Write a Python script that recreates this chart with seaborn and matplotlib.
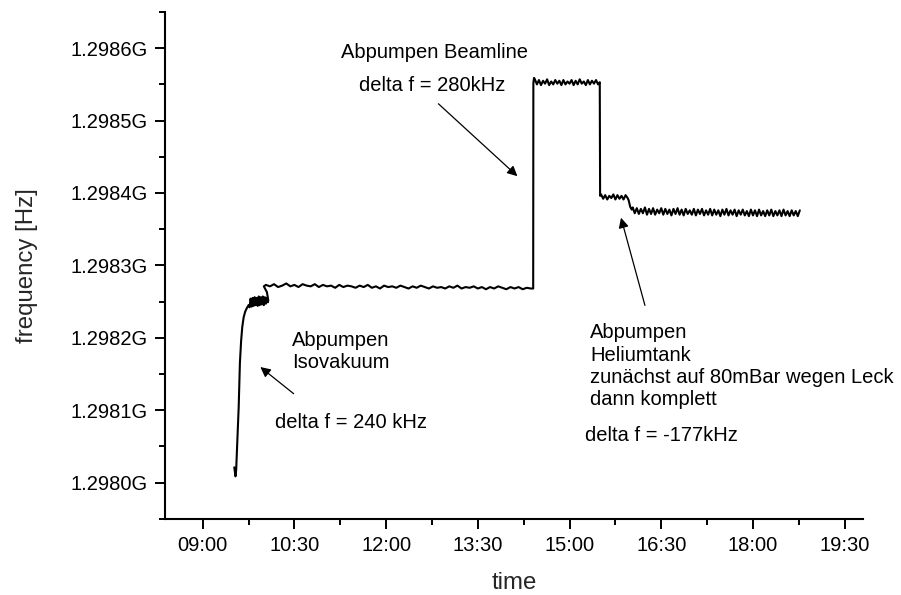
import numpy as np
import pandas as pd
import matplotlib
matplotlib.use("Agg")
import matplotlib.pyplot as plt
import matplotlib.dates as mdates
from matplotlib.ticker import FixedLocator
import seaborn as sns

DAY = "2000-01-01 "
BASE_HZ = 1.298e9          # frequency values below are kHz above 1.298 GHz

# ---- data -----------------------------------------------------------------
# rise after pumping the insulation vacuum (explicit sample times)
rise_time = ["09:31:00", "09:32:10", "09:32:50", "09:34:00", "09:35:20",
             "09:36:30", "09:37:40", "09:38:50", "09:40:10", "09:41:40",
             "09:43:20", "09:45:00"]
rise_khz = [21, 8.5, 17, 58, 105, 165, 195, 215, 228, 236, 241, 245]

# noisy shoulder (1-min samples)
blob_start, blob_step = "09:46:00", "1min"
blob_khz = [242, 254, 243, 255, 244, 256, 245, 255, 244, 257,
            245, 256, 246, 257, 245, 256, 247, 255, 249]

# curl up onto the first plateau
curl_time = ["10:04:20", "10:03:00", "10:00:00"]
curl_khz = [252, 263, 271]

# first plateau (4-min samples)
plat1_start, plat1_step = "10:02:00", "4min"
plat1_khz = [273, 271, 274, 270, 272, 275, 271, 273, 270, 274,
             272, 271, 274, 270, 273, 271, 272, 269, 273, 270,
             272, 271, 269, 272, 270, 273, 269, 271, 268, 272,
             270, 271, 269, 272, 270, 268, 271, 269, 272, 270,
             268, 271, 269, 270, 268, 271, 269, 272, 268, 270,
             269, 271, 268, 270, 267, 270, 268, 271, 269, 267,
             270, 268, 270, 267, 269, 268]

# pumping the beamline: jump up
jump1_time = ["14:24:20", "14:24:30", "14:25:10"]
jump1_khz = [268, 552, 559]

# beamline plateau (2-min samples)
plat2_start, plat2_step = "14:26:00", "2min"
plat2_khz = [557, 550, 556, 549, 555, 551, 557, 549, 554, 550,
             556, 551, 555, 549, 556, 550, 554, 551, 556, 549,
             555, 550, 557, 551, 554, 549, 556, 550, 555, 551,
             556, 550]

# pumping the helium tank: drop
jump2_time = ["15:29:40", "15:30:00"]
jump2_khz = [553, 396]

# 80 mbar plateau (2-min samples)
plat3_start, plat3_step = "15:31:00", "2min"
plat3_khz = [398, 392, 397, 391, 396, 393, 398, 391, 397, 392,
             396, 391, 397, 393]

# fully pumped: second step
step3_time = ["15:58:00", "15:59:30", "16:01:00"]
step3_khz = [390, 381, 377]

# final plateau (2-min samples)
plat4_start, plat4_step = "16:02:00", "2min"
plat4_khz = [380, 372, 379, 371, 378, 372, 380, 370, 378, 371,
             379, 370, 377, 372, 379, 370, 378, 371, 377, 369,
             378, 371, 379, 370, 377, 369, 378, 371, 376, 370,
             378, 369, 377, 371, 378, 369, 376, 370, 378, 369,
             377, 370, 376, 368, 377, 370, 378, 369, 376, 370,
             377, 368, 376, 370, 377, 369, 375, 368, 377, 369,
             376, 368, 377, 369, 375, 368, 376, 369, 377, 368,
             375, 369, 376, 368, 377, 369, 375, 368, 376, 369,
             375, 368, 376]

# axes
x_limits = ["08:23", "19:48"]
x_major = ["09:00", "10:30", "12:00", "13:30", "15:00", "16:30", "18:00", "19:30"]
x_minor = ["09:45", "11:15", "12:45", "14:15", "15:45", "17:15", "18:45"]
y_limits = [1.29795e9, 1.29865e9]
y_major = [1.2980e9, 1.2981e9, 1.2982e9, 1.2983e9, 1.2984e9, 1.2985e9, 1.2986e9]
y_major_labels = ["1.2980G", "1.2981G", "1.2982G", "1.2983G", "1.2984G", "1.2985G", "1.2986G"]
y_minor = [1.29795e9, 1.29805e9, 1.29815e9, 1.29825e9, 1.29835e9, 1.29845e9,
           1.29855e9, 1.29865e9]

# annotations: (text, time, kHz above 1.298 GHz, line spacing)
notes = [
    ("Abpumpen\nIsovakuum", "10:28:00", 181, 1.2),
    ("delta f = 240 kHz", "10:11:15", 83.5, 1.2),
    ("Abpumpen Beamline", "11:16:00", 594.5, 1.2),
    ("delta f = 280kHz", "11:33:40", 548.5, 1.2),
    ("Abpumpen\nHeliumtank\nzunächst auf 80mBar wegen Leck\ndann komplett",
     "15:20:05", 160.4, 1.22),
    ("delta f = -177kHz", "15:15:10", 65, 1.2),
]
# arrows: (tail time, tail kHz, tip time, tip kHz)
arrows = [
    ("10:29:15", 122.7, "09:56:35", 159.5),
    ("12:51:20", 523.2, "14:08:50", 423.2),
    ("16:14:00", 244.7, "15:50:30", 365.8),
]

# ---- assemble ----------------------------------------------------------------
def T(s):
    return pd.Timestamp(DAY + s)

def explicit(times, vals):
    return pd.DataFrame({"time": [T(t) for t in times], "khz": vals})

def sampled(start, step, vals):
    return pd.DataFrame({"time": pd.date_range(T(start), periods=len(vals), freq=step),
                         "khz": vals})

df = pd.concat([
    explicit(rise_time, rise_khz),
    sampled(blob_start, blob_step, blob_khz),
    explicit(curl_time, curl_khz),
    sampled(plat1_start, plat1_step, plat1_khz),
    explicit(jump1_time, jump1_khz),
    sampled(plat2_start, plat2_step, plat2_khz),
    explicit(jump2_time, jump2_khz),
    sampled(plat3_start, plat3_step, plat3_khz),
    explicit(step3_time, step3_khz),
    sampled(plat4_start, plat4_step, plat4_khz),
], ignore_index=True)
df["freq"] = BASE_HZ + df["khz"] * 1e3

def F(k):
    return BASE_HZ + k * 1e3

# ---- plot --------------------------------------------------------------------
sns.set_style("ticks")
plt.rcParams["font.family"] = ["Liberation Sans", "DejaVu Sans"]

fig = plt.figure(figsize=(9.01, 5.95), dpi=100)
ax = fig.add_axes([165 / 901, 1 - 518.7 / 595, 698 / 901, 506.7 / 595])

sns.lineplot(data=df, x="time", y="freq", sort=False, estimator=None,
             color="black", linewidth=1.5, ax=ax)

ax.set_xlim(T(x_limits[0]), T(x_limits[1]))
ax.set_ylim(*y_limits)

ax.xaxis.set_major_locator(FixedLocator(mdates.date2num([T(s) for s in x_major])))
ax.xaxis.set_minor_locator(FixedLocator(mdates.date2num([T(s) for s in x_minor])))
ax.set_xticklabels(x_major)
ax.yaxis.set_major_locator(FixedLocator(y_major))
ax.yaxis.set_minor_locator(FixedLocator(y_minor))
ax.set_yticklabels(y_major_labels)

sns.despine(ax=ax)
for sp in ("left", "bottom"):
    ax.spines[sp].set_linewidth(1.5)
    ax.spines[sp].set_color("black")
ax.tick_params(which="major", direction="out", length=7.5, width=1.4,
               labelsize=14.5, colors="black", pad=5)
ax.tick_params(which="minor", direction="out", length=4.2, width=1.4, colors="black")

ax.set_xlabel("time", fontsize=17.3)
ax.set_ylabel("frequency [Hz]", fontsize=17.3)
ax.xaxis.set_label_coords(0.5, -0.106)
ax.yaxis.set_label_coords(-0.182, 0.5)

for txt, t, k, ls in notes:
    ax.text(T(t), F(k), txt, ha="left", va="center", fontsize=14.5,
            linespacing=ls, color="black")

for t0, k0, t1, k1 in arrows:
    ax.annotate("", xy=(T(t1), F(k1)), xytext=(T(t0), F(k0)),
                arrowprops=dict(arrowstyle="-|>", color="black", lw=0.9,
                                mutation_scale=15, shrinkA=0, shrinkB=0))

fig.savefig("out.png", dpi=100, facecolor="white")
